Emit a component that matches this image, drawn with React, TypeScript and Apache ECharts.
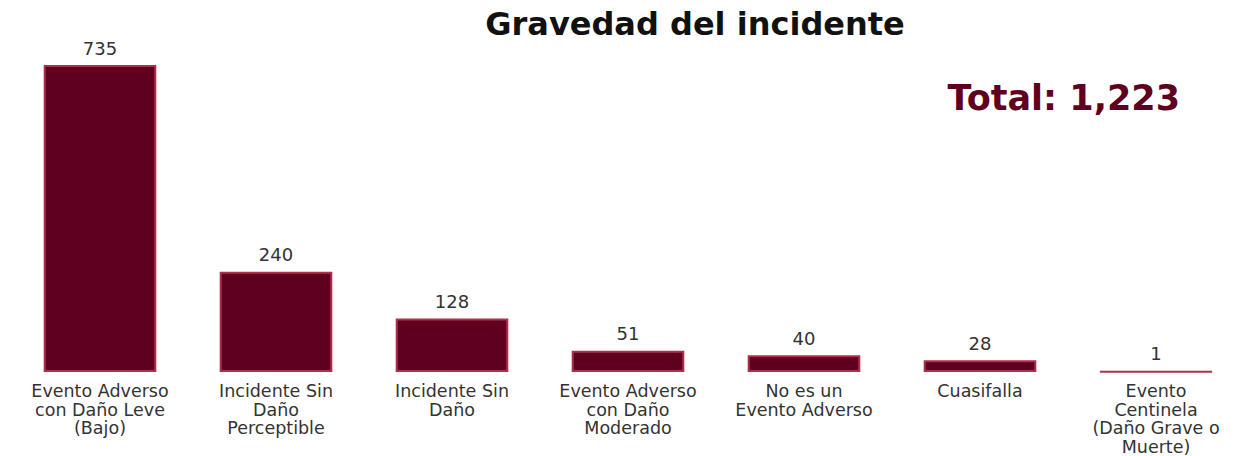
import React, { useEffect, useRef } from "react";
import * as echarts from "echarts";

const categories = [
  "Evento Adverso\ncon Daño Leve\n(Bajo)",
  "Incidente Sin\nDaño\nPerceptible",
  "Incidente Sin\nDaño",
  "Evento Adverso\ncon Daño\nModerado",
  "No es un\nEvento Adverso",
  "Cuasifalla",
  "Evento\nCentinela\n(Daño Grave o\nMuerte)",
];
const values = [735, 240, 128, 51, 40, 28, 1];
const title = "Gravedad del incidente";
const totalLabel = "Total: 1,223";

export default function App() {
  const ref = useRef<HTMLDivElement>(null);
  useEffect(() => {
    const chart = echarts.init(ref.current!, null, { renderer: "svg" });
    chart.setOption({
      animation: false,
      title: {
        text: title,
        left: 690,
        textAlign: "center",
        top: 3,
        textStyle: { fontFamily: "DejaVu Sans", fontWeight: "bold", fontSize: 32, color: "#111" },
      },
      graphic: [
        {
          type: "text",
          right: 69,
          top: 80,
          style: {
            text: totalLabel,
            fontFamily: "DejaVu Sans",
            fontWeight: "bold",
            fontSize: 35,
            fill: "#5f0020",
          },
        },
      ],
      grid: { left: 12, right: 5, top: 65, bottom: 84, containLabel: false, outerBoundsMode: "none" },
      xAxis: {
        type: "category",
        data: categories,
        axisLine: { show: false },
        axisTick: { show: false },
        axisLabel: {
          interval: 0,
          margin: 10,
          fontFamily: "DejaVu Sans",
          fontSize: 17.5,
          lineHeight: 18.5,
          color: "#333",
          align: "center",
        },
      },
      yAxis: { type: "value", min: 0, max: 735, show: false, splitLine: { show: false } },
      series: [
        {
          type: "bar",
          data: values,
          barWidth: "64%",
          itemStyle: { color: "#5f0020", borderColor: "#b0304c", borderWidth: 2 },
          label: {
            show: true,
            position: "top",
            distance: 8,
            fontFamily: "DejaVu Sans",
            fontSize: 18,
            color: "#333",
          },
        },
      ],
    });
    return () => chart.dispose();
  }, []);
  return (
    <div
      ref={ref}
      style={{ position: "absolute", left: 0, top: 0, width: 1249, height: 456 }}
    />
  );
}
